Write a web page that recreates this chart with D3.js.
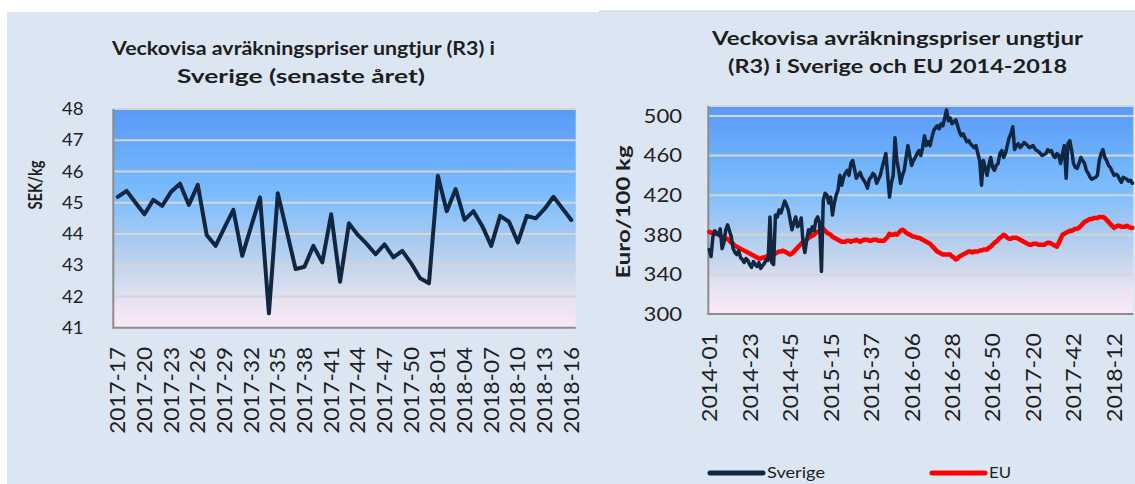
<!DOCTYPE html>
<html><head><meta charset="utf-8">
<script src="https://cdn.jsdelivr.net/npm/d3@7"></script>
<style>
html,body{margin:0;padding:0;background:#fff;}
svg{display:block;font-family:Lato,"Open Sans",sans-serif;}
</style></head><body>
<svg id="c" width="1135" height="484"></svg>
<script>
// ---------- DATA ----------
// Left chart: weekly settlement price, SEK/kg, 2017-17 .. 2018-16
const leftWeeksPerYear = [[2017, 17, 52], [2018, 1, 16]];
const leftTickLabels = ["2017-17","2017-20","2017-23","2017-26","2017-29","2017-32","2017-35","2017-38","2017-41","2017-44","2017-47","2017-50","2018-01","2018-04","2018-07","2018-10","2018-13","2018-16"];
const leftValues = [45.19,45.38,45.0,44.63,45.09,44.9,45.35,45.61,44.93,45.57,43.97,43.62,44.2,44.77,43.3,44.24,45.17,41.46,45.3,44.1,42.88,42.95,43.62,43.09,44.63,42.47,44.34,43.97,43.68,43.35,43.67,43.25,43.46,43.06,42.58,42.42,45.86,44.73,45.44,44.45,44.73,44.25,43.62,44.58,44.39,43.73,44.58,44.5,44.8,45.19,44.82,44.45];
const leftYTicks = [41,42,43,44,45,46,47,48];

// Right chart: Euro/100 kg, 2014-01 .. 2018-22
const rightWeeksPerYear = [[2014, 1, 52], [2015, 1, 53], [2016, 1, 52], [2017, 1, 52], [2018, 1, 22]];
const rightTickLabels = ["2014-01","2014-23","2014-45","2015-15","2015-37","2016-06","2016-28","2016-50","2017-20","2017-42","2018-12"];
const sverigeValues = [365,358,378,384,382,380,386,366,372,385,390,384,378,366,362,360,364,357,355,352,356,354,350,347,353,350,348,352,346,349,351,355,354,398,352,350,400,398,405,402,408,414,410,405,395,385,392,398,388,390,397,372,362,375,385,382,388,384,395,398,392,343,415,422,420,412,418,400,412,420,425,440,430,438,442,445,440,452,455,446,437,440,443,438,435,432,427,436,438,442,440,432,436,440,448,455,462,440,418,432,440,478,455,445,432,440,445,458,470,460,450,455,458,462,465,460,468,480,470,474,470,478,485,488,490,487,492,490,498,506,495,498,492,494,496,490,484,480,482,478,474,475,472,470,468,470,462,455,430,455,448,440,450,458,448,445,450,452,462,465,458,462,470,478,482,489,466,470,472,468,470,473,472,470,468,469,470,467,465,464,462,460,461,462,466,464,465,460,458,462,460,452,462,470,437,472,475,465,452,448,447,452,458,455,452,445,442,438,436,437,438,440,455,462,466,458,455,450,448,444,440,441,440,436,433,438,437,436,434,435,432];
const euValues = [383,382,382,381,381,380,379,378,377,376,376,374,372,371,369,368,367,366,365,364,363,362,361,360,359,358,357,356,356,357,357,358,358,359,360,360,361,362,363,363,364,363,362,361,360,361,363,365,367,369,371,373,374,375,377,378,379,380,382,383,384,385,386,384,382,381,380,378,377,376,375,374,373,373,373,374,374,373,374,374,375,374,373,374,375,375,375,374,374,375,375,375,374,374,374,374,376,378,381,380,380,381,380,382,384,385,384,382,381,380,379,378,378,377,377,376,375,374,373,372,371,369,367,365,363,362,361,360,360,360,360,360,358,357,355,356,358,359,360,361,362,363,363,362,363,363,363,364,364,365,365,365,367,368,370,372,373,375,377,378,380,379,377,376,376,377,377,377,376,375,374,373,372,371,370,370,371,371,371,370,370,370,370,371,372,372,371,370,369,368,372,376,380,381,382,383,384,384,385,386,386,387,389,391,393,394,395,396,396,397,397,397,398,398,398,397,395,393,391,389,387,388,389,389,388,388,388,389,388,387,387];
const rightYTicks = [300,340,380,420,460,500];

// ---------- HELPERS ----------
function weekCats(spec) {
  const out = [];
  spec.forEach(([y, a, b]) => { for (let w = a; w <= b; w++) out.push(y + "-" + String(w).padStart(2, "0")); });
  return out;
}
const leftCats = weekCats(leftWeeksPerYear);
const rightCats = weekCats(rightWeeksPerYear);

const svg = d3.select("#c");
const BG = "#dce6f2", TXT = "#1e1e1e", GRID = "#d5d5d5", AXIS = "#8c8c8c";
const NAVY = "#112640", RED = "#ff0000";

svg.append("rect").attr("x", 0).attr("y", 0).attr("width", 1135).attr("height", 484).attr("fill", "#fff");
svg.append("rect").attr("x", 7).attr("y", 12).attr("width", 592).attr("height", 472).attr("fill", BG);
svg.append("rect").attr("x", 599).attr("y", 10).attr("width", 536).attr("height", 474).attr("fill", BG);

const defs = svg.append("defs");
const grad = defs.append("linearGradient").attr("id", "pg").attr("x1", 0).attr("y1", 0).attr("x2", 0).attr("y2", 1);
[[0, "#5a9af8"], [0.2, "#68acfa"], [0.42, "#80bffd"], [0.6, "#a9caf0"], [0.75, "#c9d7ec"], [0.88, "#e8e3f3"], [1, "#fbe8f6"]]
  .forEach(([o, c]) => grad.append("stop").attr("offset", o).attr("stop-color", c));

function drawPanel(o) {
  const g = svg.append("g");
  const x = d3.scalePoint().domain(o.cats).range([o.left, o.right]).padding(0.5);
  const y = d3.scaleLinear().domain(o.domain).range([o.bottom, o.top]);
  g.append("rect").attr("x", o.left).attr("y", o.top).attr("width", o.right - o.left).attr("height", o.bottom - o.top).attr("fill", "url(#pg)");
  g.append("line").attr("x1", o.left).attr("x2", o.right).attr("y1", o.top).attr("y2", o.top).attr("stroke", GRID).attr("stroke-width", 2);
  g.selectAll(".gl").data(o.yTicks.filter(t => t !== o.domain[0])).join("line")
    .attr("x1", o.left).attr("x2", o.right).attr("y1", d => y(d)).attr("y2", d => y(d))
    .attr("stroke", GRID).attr("stroke-width", 2);
  g.append("line").attr("x1", o.left).attr("x2", o.left).attr("y1", o.top).attr("y2", o.bottom + 1).attr("stroke", AXIS).attr("stroke-width", 2);
  g.append("line").attr("x1", o.left).attr("x2", o.right).attr("y1", o.bottom).attr("y2", o.bottom).attr("stroke", AXIS).attr("stroke-width", 2);
  g.selectAll(".yl").data(o.yTicks).join("text")
    .attr("x", o.yLabelX).attr("y", d => y(d)).attr("dy", "0.35em")
    .attr("text-anchor", "end").attr("font-size", o.yFont).attr("fill", TXT)
    .attr("textLength", d => String(d).length * o.yDigitW).attr("lengthAdjust", "spacingAndGlyphs").text(d => d);
  g.selectAll(".xl").data(o.xTicks).join("text")
    .attr("transform", d => `translate(${x(d)},${o.xLabelY}) rotate(-90)`)
    .attr("dy", "0.36em").attr("text-anchor", "end").attr("font-size", o.xFont).attr("fill", TXT)
    .attr("textLength", o.xLabelLen).attr("lengthAdjust", "spacingAndGlyphs").text(d => d);
  g.append("text").attr("transform", `translate(${o.yTitleX},${o.yTitleY}) rotate(-90)`)
    .attr("text-anchor", "middle").attr("dy", "0.35em").attr("font-weight", "bold").attr("font-size", o.yTitleFont).attr("fill", TXT)
    .attr("textLength", o.yTitleLen).attr("lengthAdjust", "spacingAndGlyphs").text(o.yTitle);
  o.title.forEach(t => {
    g.append("text").attr("x", t.cx).attr("y", t.y).attr("text-anchor", "middle")
      .attr("font-weight", "bold").attr("font-size", o.titleFont).attr("fill", TXT)
      .attr("textLength", t.w).attr("lengthAdjust", "spacingAndGlyphs").text(t.text);
  });
  o.series.forEach(s => {
    const line = d3.line().x((d, i) => x(o.cats[i])).y(d => y(d));
    g.append("path").datum(s.values).attr("d", line).attr("fill", "none")
      .attr("stroke", s.color).attr("stroke-width", s.width)
      .attr("stroke-linejoin", "round").attr("stroke-linecap", "round");
  });
}

drawPanel({
  cats: leftCats, left: 113.3, right: 575.7, top: 109, bottom: 327.7, domain: [41, 48],
  yTicks: leftYTicks, yLabelX: 83.5, yFont: 17.5, yDigitW: 10.8,
  xTicks: leftTickLabels, xLabelY: 347, xLabelLen: 86.7, xFont: 21,
  yTitle: "SEK/kg", yTitleX: 35, yTitleY: 185, yTitleLen: 49, yTitleFont: 19.5,
  titleFont: 19.5,
  title: [{ text: "Veckovisa avräkningspriser ungtjur (R3) i", cx: 303.5, y: 55, w: 383 },
          { text: "Sverige (senaste året)", cx: 301, y: 83, w: 248 }],
  series: [{ values: leftValues, color: NAVY, width: 4 }]
});

drawPanel({
  cats: rightCats, left: 708.3, right: 1133.3, top: 106, bottom: 314, domain: [300, 510],
  yTicks: rightYTicks, yLabelX: 682, yFont: 19.5, yDigitW: 12.8,
  xTicks: rightTickLabels, xLabelY: 333, xLabelLen: 89, xFont: 22,
  yTitle: "Euro/100 kg", yTitleX: 623, yTitleY: 212, yTitleLen: 133, yTitleFont: 19.5,
  titleFont: 19.5,
  title: [{ text: "Veckovisa avräkningspriser ungtjur", cx: 897.5, y: 45, w: 371 },
          { text: "(R3) i Sverige och EU 2014-2018", cx: 897.5, y: 73, w: 339 }],
  series: [{ values: euValues, color: RED, width: 4.5 }, { values: sverigeValues, color: NAVY, width: 3.5 }]
});

const legend = [{ name: "Sverige", color: NAVY, x: 710, w: 58 }, { name: "EU", color: RED, x: 932, w: 22 }];
const lg = svg.append("g");
legend.forEach(l => {
  lg.append("line").attr("x1", l.x).attr("x2", l.x + 53).attr("y1", 473).attr("y2", 473)
    .attr("stroke", l.color).attr("stroke-width", 5).attr("stroke-linecap", "round");
  lg.append("text").attr("x", l.x + 57).attr("y", 478).attr("font-size", 16).attr("fill", TXT)
    .attr("textLength", l.w).attr("lengthAdjust", "spacingAndGlyphs").text(l.name);
});
</script>
</body></html>
